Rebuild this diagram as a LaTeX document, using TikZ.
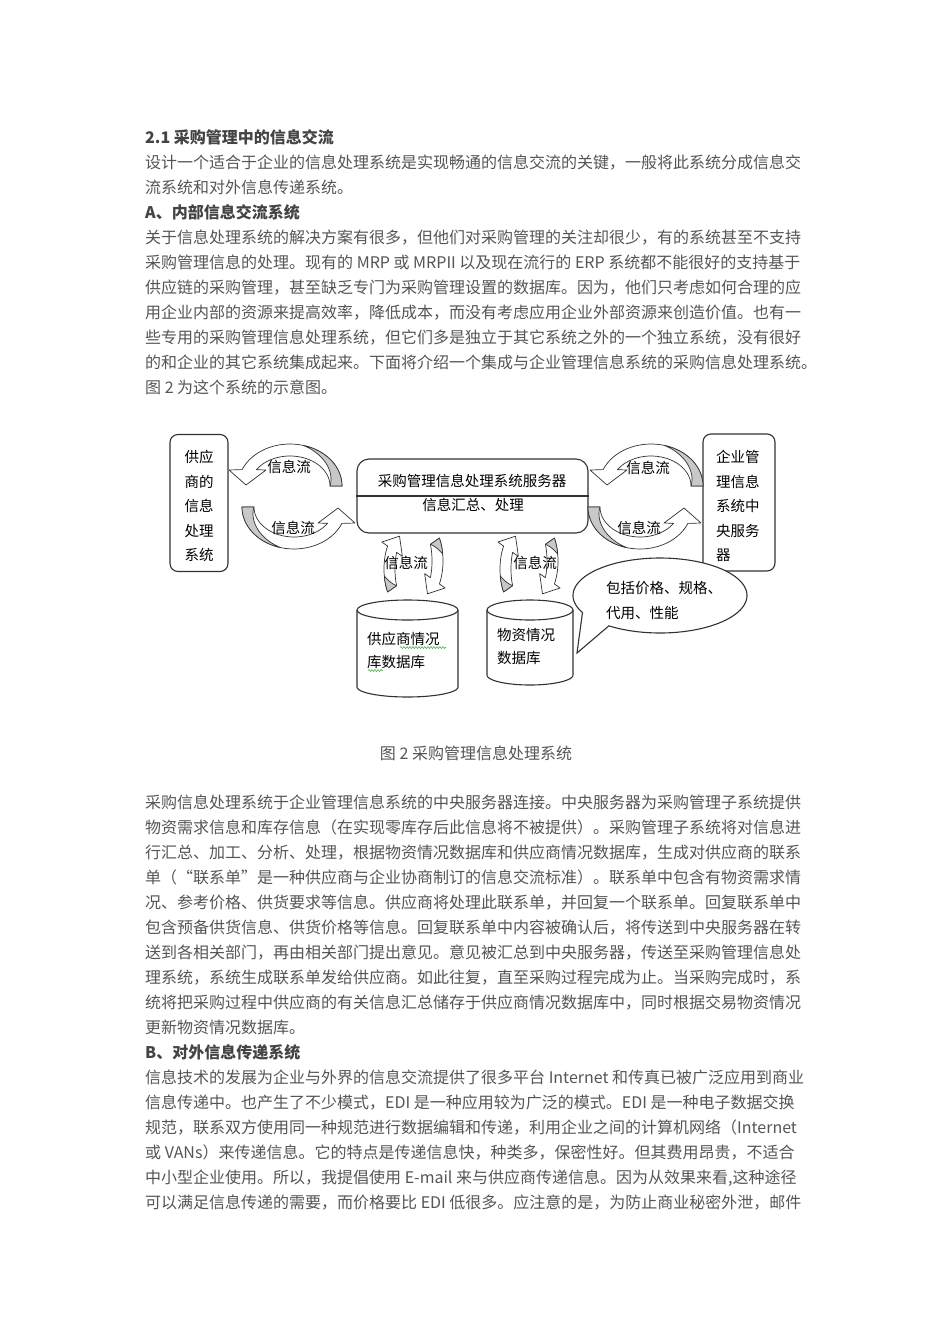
\documentclass[tikz,border=0pt]{standalone}
\usepackage{fontspec}
\setmainfont{Noto Sans CJK SC}
\usetikzlibrary{decorations.pathmorphing}
\definecolor{txtgray}{RGB}{85,85,85}
\definecolor{headgray}{RGB}{68,68,68}
\definecolor{lnc}{RGB}{50,50,50}
\definecolor{arrgray}{RGB}{200,200,200}
\definecolor{spell}{RGB}{90,175,90}
\tikzset{
  body/.style={anchor=base west, inner sep=0pt, text=txtgray, font=\fontsize{16pt}{16pt}\selectfont},
  headline/.style={body, text=headgray, font=\fontsize{16pt}{16pt}\selectfont\bfseries},
  dtext/.style={inner sep=0pt, text=black, font=\fontsize{14.5pt}{24.5pt}\selectfont},
  dbox/.style={draw=lnc, line width=1.1pt, fill=white, inner sep=0pt},
  arrline/.style={draw=lnc, line width=0.7pt, line join=round},
  dline/.style={draw=lnc, line width=1.1pt},
}
% horizontal curved arrow: head at left (pointing down), tail at right, arc on top
\newcommand\harr[1]{%
  \begin{scope}[#1]
  \filldraw[arrline, fill=white]
    plot[domain=0:157, samples=40] ({52*cos(\x)}, {-42*sin(\x)})
    -- (-61,-16) -- (-44,-1) -- (-24,-16)
    -- plot[domain=147:0, samples=40] ({40*cos(\x)}, {-30*sin(\x)})
    -- cycle;
  \filldraw[arrline, fill=arrgray]
    plot[domain=0:75, samples=30] ({52*cos(\x)}, {-42*sin(\x)})
    -- plot[domain=75:0, samples=30] ({(40+12*\x/75)*cos(\x)}, {-(30+12*\x/75)*sin(\x)})
    -- cycle;
  \end{scope}}
% generic curved arrow
% #1 transform, #2 outer rx, #3 outer ry, #4 inner rx, #5 inner ry,
% #6 tail angle, #7 head angle, #8 end angle of grey part, #9 tip angle
\newcommand\curvarr[9]{%
  \begin{scope}[#1]
  \filldraw[arrline, fill=white]
    plot[domain=#6:#7, samples=40] ({#2*cos(\x)}, {-#3*sin(\x)})
    -- ({(#2+7)*cos(#7)}, {-(#3+7)*sin(#7)})
    -- ({(#2+#4)/2*cos(#9)}, {-(#3+#5)/2*sin(#9)})
    -- ({(#4-7)*cos(#7)}, {-(#5-7)*sin(#7)})
    -- plot[domain=#7:#6, samples=40] ({#4*cos(\x)}, {-#5*sin(\x)})
    -- cycle;
  \filldraw[arrline, fill=arrgray]
    plot[domain=#6:#8, samples=30] ({#2*cos(\x)}, {-#3*sin(\x)})
    -- plot[domain=#8:#6, samples=30] ({(#4+(#2-#4)*(\x-#6)/(#8-#6))*cos(\x)}, {-(#5+(#3-#5)*(\x-#6)/(#8-#6))*sin(\x)})
    -- cycle;
  \end{scope}}
\begin{document}
\begin{tikzpicture}[x=1pt,y=-1pt]
\useasboundingbox[fill=white] (0,0) rectangle (950,1344);

% ---------- text above the figure ----------
\node[headline] (h1) at (145,143) {2.1 采购管理中的信息交流};
\node[body] (t1) at (145,168.5) {设计一个适合于企业的信息处理系统是实现畅通的信息交流的关键，一般将此系统分成信息交};
\node[body] (t2) at (145,193.5) {流系统和对外信息传递系统。};
\node[headline] (h2) at (145,218) {A、内部信息交流系统};
\node[body] (t3) at (145,243) {关于信息处理系统的解决方案有很多，但他们对采购管理的关注却很少，有的系统甚至不支持};
\node[body] (t4) at (145,268) {采购管理信息的处理。现有的 MRP 或 MRPII 以及现在流行的 ERP 系统都不能很好的支持基于};
\node[body] (t5) at (145,293) {供应链的采购管理，甚至缺乏专门为采购管理设置的数据库。因为，他们只考虑如何合理的应};
\node[body] (t6) at (145,318.5) {用企业内部的资源来提高效率，降低成本，而没有考虑应用企业外部资源来创造价值。也有一};
\node[body] (t7) at (145,343.5) {些专用的采购管理信息处理系统，但它们多是独立于其它系统之外的一个独立系统，没有很好};
\node[body] (t8) at (145,368.5) {的和企业的其它系统集成起来。下面将介绍一个集成与企业管理信息系统的采购信息处理系统。};
\node[body] (t9) at (145,393.5) {图 2 为这个系统的示意图。};

% ---------- figure ----------
\node[dbox, rounded corners=8pt, minimum width=58pt, minimum height=137pt] (sup) at (199,503) {};
\node[dtext, align=center] (suptxt) at (199,506) {供应\\商的\\信息\\处理\\系统};

\node[dbox, rounded corners=12pt, minimum width=231pt, minimum height=74pt] (srv) at (472.5,496) {};
\draw[dline] (srv.west) -- (srv.east);
\node[dtext] (srvt) at (472,481) {采购管理信息处理系统服务器};
\node[dtext] (srvs) at (473,505) {信息汇总、处理};

\node[dbox, rounded corners=8pt, minimum width=72pt, minimum height=137pt] (ent) at (739,502.5) {};
\node[dtext, align=left, anchor=west] (enttxt) at (716,506) {企业管\\理信息\\系统中\\央服务\\器};

% cylinders
\coordinate (db1) at (407.5,650);
\coordinate (db2) at (530,645);
\draw[dline] (357,610) -- (357,687)
  -- plot[domain=180:360,samples=40] ({407.5+50.5*cos(\x)},{687-10*sin(\x)}) -- (458,610);
\draw[dline] (407.5,610) ellipse [x radius=50.5pt, y radius=10pt];
\draw[dline] (487,610) -- (487,675)
  -- plot[domain=180:360,samples=40] ({530+43*cos(\x)},{675-10*sin(\x)}) -- (573,610);
\draw[dline] (530,610) ellipse [x radius=43pt, y radius=10pt];
\node[dtext, align=left, anchor=west, font=\fontsize{14.5pt}{23pt}\selectfont] (db1t) at (367,650.5) {供应商情况\\库数据库};
\node[dtext, align=left, anchor=west, font=\fontsize{14.5pt}{23pt}\selectfont] (db2t) at (497,646.5) {物资情况\\数据库};
\draw[spell, line width=0.6pt, decorate, decoration={snake, amplitude=1pt, segment length=3pt}] (400,647.5) -- (446,647.5);
\draw[spell, line width=0.6pt, decorate, decoration={snake, amplitude=1pt, segment length=3pt}] (368,670.5) -- (383,670.5);

% callout
\filldraw[dline, fill=white] (577,653)
  -- plot[domain=207:-126, samples=120] ({660+87*cos(\x)},{595.5-37.5*sin(\x)}) -- cycle;
\node[dtext, align=left, anchor=west, font=\fontsize{14.5pt}{25pt}\selectfont] (calt) at (606,600.5) {包括价格、规格、\\代用、性能};

% curved arrows
\harr{shift={(290,486)}}
\harr{shift={(651,486)}}
\harr{shift={(294,507)},rotate=180}
\harr{shift={(640,507)},rotate=180}
\curvarr{shift={(404,569)}}{20}{40}{9}{29}{215}{145}{190}{108}
\curvarr{shift={(423,561)},rotate=180}{20}{40}{9}{29}{215}{145}{190}{108}
\curvarr{shift={(520,569)}}{20}{40}{9}{29}{215}{145}{190}{108}
\curvarr{shift={(538,561)},rotate=180}{20}{40}{9}{29}{215}{145}{190}{108}

\node[dtext] (f1) at (289,467) {信息流};
\node[dtext] (f2) at (293,528) {信息流};
\node[dtext] (f3) at (648,468) {信息流};
\node[dtext] (f4) at (639,528) {信息流};
\node[dtext] (f5) at (406,563) {信息流};
\node[dtext] (f6) at (535,563) {信息流};

\node[body, anchor=base] (cap) at (476,759) {图 2 采购管理信息处理系统};

% ---------- text below the figure ----------
\node[body] (u1) at (145,808) {采购信息处理系统于企业管理信息系统的中央服务器连接。中央服务器为采购管理子系统提供};
\node[body] (u2) at (145,833) {物资需求信息和库存信息（在实现零库存后此信息将不被提供）。采购管理子系统将对信息进};
\node[body] (u3) at (145,858) {行汇总、加工、分析、处理，根据物资情况数据库和供应商情况数据库，生成对供应商的联系};
\node[body] (u4) at (145,883) {单（“联系单”是一种供应商与企业协商制订的信息交流标准）。联系单中包含有物资需求情};
\node[body] (u5) at (145,908) {况、参考价格、供货要求等信息。供应商将处理此联系单，并回复一个联系单。回复联系单中};
\node[body] (u6) at (145,933) {包含预备供货信息、供货价格等信息。回复联系单中内容被确认后，将传送到中央服务器在转};
\node[body] (u7) at (145,958) {送到各相关部门，再由相关部门提出意见。意见被汇总到中央服务器，传送至采购管理信息处};
\node[body] (u8) at (145,983) {理系统，系统生成联系单发给供应商。如此往复，直至采购过程完成为止。当采购完成时，系};
\node[body] (u9) at (145,1008) {统将把采购过程中供应商的有关信息汇总储存于供应商情况数据库中，同时根据交易物资情况};
\node[body] (u10) at (145,1033) {更新物资情况数据库。};
\node[headline] (h3) at (145,1058) {B、对外信息传递系统};
\node[body] (v1) at (145,1083) {信息技术的发展为企业与外界的信息交流提供了很多平台 Internet 和传真已被广泛应用到商业};
\node[body] (v2) at (145,1108) {信息传递中。也产生了不少模式，EDI 是一种应用较为广泛的模式。EDI 是一种电子数据交换};
\node[body] (v3) at (145,1133) {规范，联系双方使用同一种规范进行数据编辑和传递，利用企业之间的计算机网络（Internet};
\node[body] (v4) at (145,1158) {或 VANs）来传递信息。它的特点是传递信息快，种类多，保密性好。但其费用昂贵，不适合};
\node[body] (v5) at (145,1183) {中小型企业使用。所以，我提倡使用 E-mail 来与供应商传递信息。因为从效果来看,这种途径};
\node[body] (v6) at (145,1208) {可以满足信息传递的需要，而价格要比 EDI 低很多。应注意的是，为防止商业秘密外泄，邮件};
\end{tikzpicture}
\end{document}
